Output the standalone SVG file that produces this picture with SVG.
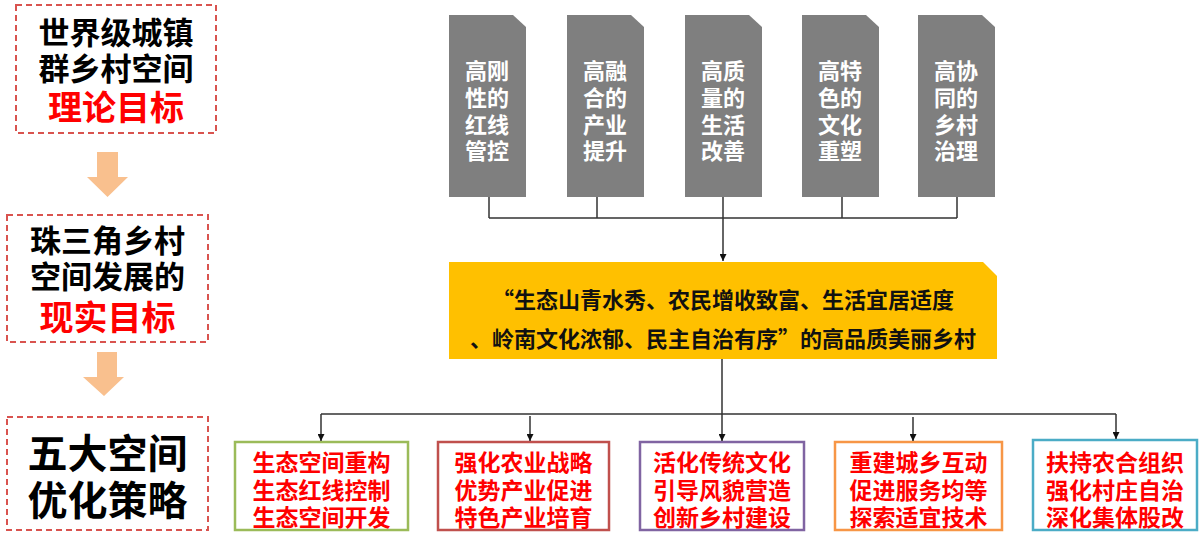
<svg xmlns="http://www.w3.org/2000/svg" width="1200" height="547" viewBox="0 0 1200 547">
  <defs>
    <style>
      text { font-family: "Noto Sans CJK SC", "Noto Sans", sans-serif; font-weight: 700; text-anchor: middle; }
      .dash { fill: #ffffff; stroke: #D9534F; stroke-width: 2; stroke-dasharray: 6 4; }
      .lt { font-size: 31px; fill: #000000; }
      .lr { font-size: 34px; fill: #FF0000; }
      .lb { font-size: 40px; fill: #000000; }
      .blk { fill: #F9C08E; }
      .gray { fill: #7F7F7F; }
      .gt { font-size: 22px; fill: #ffffff; }
      .yel { fill: #FFC000; }
      .yt { font-size: 22px; fill: #111111; }
      .bt { font-size: 23px; fill: #FF0000; }
      .bx { fill: #ffffff; stroke-width: 2.5; }
      .ln { fill: none; stroke: #333333; stroke-width: 1.5; }
      .ar { fill: none; stroke: #333333; stroke-width: 1.5; marker-end: url(#ah); }
    </style>
    <marker id="ah" viewBox="0 0 10 10" refX="10" refY="5" markerWidth="7" markerHeight="7" markerUnits="userSpaceOnUse" orient="auto">
      <path d="M0,0 L10,5 L0,10 Z" fill="#111111"/>
    </marker>
  </defs>

  <!-- left column -->
  <g id="goal-theory">
    <rect class="dash" x="16" y="5" width="200" height="128"/>
    <text class="lt" x="116" y="44">世界级城镇<tspan x="116" dy="36">群乡村空间</tspan><tspan class="lr" x="116" dy="40">理论目标</tspan></text>
  </g>
  <g id="arrow-1">
    <path class="blk" d="M97,152 H118 V177 H128 L107.5,197 L87,177 H97 Z"/>
  </g>
  <g id="goal-reality">
    <rect class="dash" x="7" y="215" width="201" height="127"/>
    <text class="lt" x="107.5" y="252">珠三角乡村<tspan x="107.5" dy="36">空间发展的</tspan><tspan class="lr" x="107.5" dy="42">现实目标</tspan></text>
  </g>
  <g id="arrow-2">
    <path class="blk" d="M97,352 H117 V377 H124 L104,396 L83,377 H97 Z"/>
  </g>
  <g id="strategies">
    <rect class="dash" x="7" y="417" width="201" height="113"/>
    <text class="lb" x="107.5" y="468">五大空间<tspan x="107.5" dy="47">优化策略</tspan></text>
  </g>

  <!-- gray goal cards -->
  <g id="card-1">
    <path class="gray" d="M449,15 H513 L526,27 V197 H449 Z"/>
    <text class="gt" x="487" y="79">高刚<tspan x="487" dy="27">性的</tspan><tspan x="487" dy="27">红线</tspan><tspan x="487" dy="26">管控</tspan></text>
  </g>
  <g id="card-2">
    <path class="gray" d="M567,15 H631 L644,27 V197 H567 Z"/>
    <text class="gt" x="605" y="79">高融<tspan x="605" dy="27">合的</tspan><tspan x="605" dy="27">产业</tspan><tspan x="605" dy="26">提升</tspan></text>
  </g>
  <g id="card-3">
    <path class="gray" d="M685,15 H749 L762,27 V197 H685 Z"/>
    <text class="gt" x="723" y="79">高质<tspan x="723" dy="27">量的</tspan><tspan x="723" dy="27">生活</tspan><tspan x="723" dy="26">改善</tspan></text>
  </g>
  <g id="card-4">
    <path class="gray" d="M802,15 H866 L879,27 V197 H802 Z"/>
    <text class="gt" x="840" y="79">高特<tspan x="840" dy="27">色的</tspan><tspan x="840" dy="27">文化</tspan><tspan x="840" dy="26">重塑</tspan></text>
  </g>
  <g id="card-5">
    <path class="gray" d="M918,15 H982 L995,27 V197 H918 Z"/>
    <text class="gt" x="956" y="79">高协<tspan x="956" dy="27">同的</tspan><tspan x="956" dy="27">乡村</tspan><tspan x="956" dy="26">治理</tspan></text>
  </g>

  <!-- central goal -->
  <g id="vision">
    <path class="yel" d="M449,262 H983 L997,276 V359 H449 Z"/>
    <text class="yt" x="723" y="308">“生态山青水秀、农民增收致富、生活宜居适度<tspan x="723" dy="39">、岭南文化浓郁、民主自治有序”的高品质美丽乡村</tspan></text>
  </g>

  <!-- strategy boxes -->
  <g id="s-ecology">
    <rect class="bx" x="235" y="442" width="173" height="88" stroke="#9BBB59"/>
    <text class="bt" x="321.5" y="471">生态空间重构<tspan x="321.5" dy="28">生态红线控制</tspan><tspan x="321.5" dy="27">生态空间开发</tspan></text>
  </g>
  <g id="s-industry">
    <rect class="bx" x="438" y="442" width="171" height="88" stroke="#C0504D"/>
    <text class="bt" x="523.5" y="471">强化农业战略<tspan x="523.5" dy="28">优势产业促进</tspan><tspan x="523.5" dy="27">特色产业培育</tspan></text>
  </g>
  <g id="s-culture">
    <rect class="bx" x="640" y="442" width="164" height="88" stroke="#8064A2"/>
    <text class="bt" x="722" y="471">活化传统文化<tspan x="722" dy="28">引导风貌营造</tspan><tspan x="722" dy="27">创新乡村建设</tspan></text>
  </g>
  <g id="s-services">
    <rect class="bx" x="835" y="442" width="167" height="88" stroke="#F79646"/>
    <text class="bt" x="918.5" y="471">重建城乡互动<tspan x="918.5" dy="28">促进服务均等</tspan><tspan x="918.5" dy="27">探索适宜技术</tspan></text>
  </g>
  <g id="s-governance">
    <rect class="bx" x="1033" y="440" width="164" height="90" stroke="#4BACC6"/>
    <text class="bt" x="1115" y="471">扶持农合组织<tspan x="1115" dy="28">强化村庄自治</tspan><tspan x="1115" dy="27">深化集体股改</tspan></text>
  </g>

  <!-- connectors -->
  <g id="connectors">
    <path class="ln" d="M489,197 V218 M597,197 V218 M842,197 V218 M957,197 V218 M489,218 H957"/>
    <path class="ar" d="M723,197 V261"/>
    <path class="ln" d="M722,359 V414 M321,414 H1116"/>
    <path class="ar" d="M321,414 V441"/>
    <path class="ar" d="M530,416 V441"/>
    <path class="ar" d="M722,414 V441"/>
    <path class="ar" d="M913,417 V441"/>
    <path class="ar" d="M1116,414 V439"/>
  </g>
</svg>
